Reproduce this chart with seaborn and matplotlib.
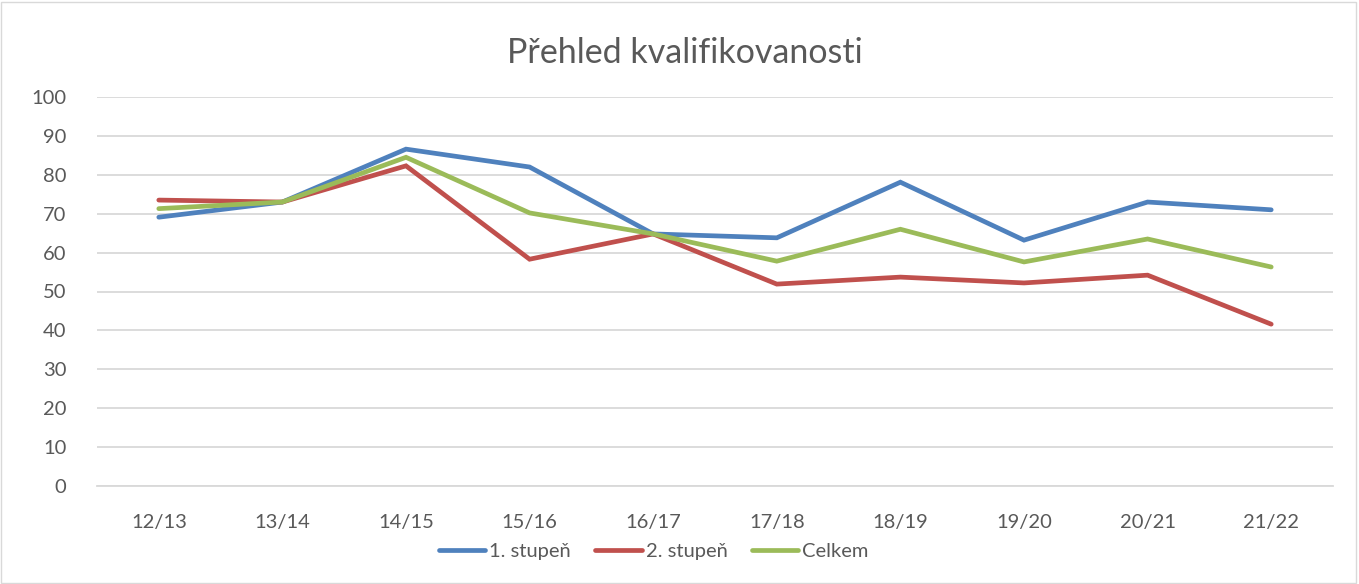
import numpy as np
import pandas as pd
import matplotlib
matplotlib.use("Agg")
import matplotlib.pyplot as plt
import seaborn as sns

# data
years = ["12/13", "13/14", "14/15", "15/16", "16/17", "17/18", "18/19", "19/20", "20/21", "21/22"]
stupen1 = [69.1, 73.0, 86.6, 82.0, 64.8, 63.8, 78.1, 63.2, 73.0, 71.0]
stupen2 = [73.5, 73.0, 82.3, 58.3, 64.8, 51.9, 53.7, 52.2, 54.2, 41.6]
celkem = [71.3, 73.0, 84.5, 70.2, 64.8, 57.8, 66.0, 57.6, 63.5, 56.3]
series_names = ["1. stupeň", "2. stupeň", "Celkem"]
colors = ["#4f81bd", "#c0504d", "#9bbb59"]

df = pd.DataFrame({"rok": years * 3,
                   "hodnota": stupen1 + stupen2 + celkem,
                   "serie": np.repeat(series_names, len(years))})

sns.set_style("white")
plt.rcParams["font.family"] = ["Lato", "DejaVu Sans"]

fig = plt.figure(figsize=(13.59, 5.84), dpi=100)
ax = fig.add_axes([97 / 1359, 1 - 486 / 584, 1236 / 1359, 389 / 584])

sns.lineplot(data=df, x="rok", y="hodnota", hue="serie", palette=colors,
             linewidth=3.4, ax=ax, sort=False, legend=False,
             solid_capstyle="round", solid_joinstyle="miter")

ax.set_xlim(-0.5, len(years) - 0.5)
ax.set_ylim(0, 100)
ax.set_yticks(range(0, 101, 10))
ax.yaxis.grid(True, color="#d9d9d9", linewidth=1.3)
ax.set_axisbelow(True)
for s in ["top", "right", "left"]:
    ax.spines[s].set_visible(False)
ax.spines["bottom"].set_color("#d9d9d9")
ax.spines["bottom"].set_linewidth(1.3)
ax.tick_params(axis="both", length=0, labelsize=14.5, labelcolor="#595959")
ax.tick_params(axis="x", pad=20)
ax.tick_params(axis="y", pad=22)
ax.set_xlabel("")
ax.set_ylabel("")

fig.text(0.504, 1 - 53 / 584, "Přehled kvalifikovanosti", ha="center", va="center",
         fontsize=24.5, color="#595959")

handles = [plt.Line2D([], [], color=c, linewidth=3.4, solid_capstyle="round") for c in colors]
fig.legend(handles, series_names, loc="center", bbox_to_anchor=(0.481, 1 - 551 / 584),
           ncol=3, frameon=False, fontsize=14.5, labelcolor="#595959",
           handlelength=2.3, handletextpad=0.2, columnspacing=1.2)

# thin grey frame around the whole chart
fig.patches.append(plt.Rectangle((0.001, 0.002), 0.997, 0.995, transform=fig.transFigure,
                                 fill=False, edgecolor="#d9d9d9", linewidth=1))

fig.savefig("out.png", dpi=100)
